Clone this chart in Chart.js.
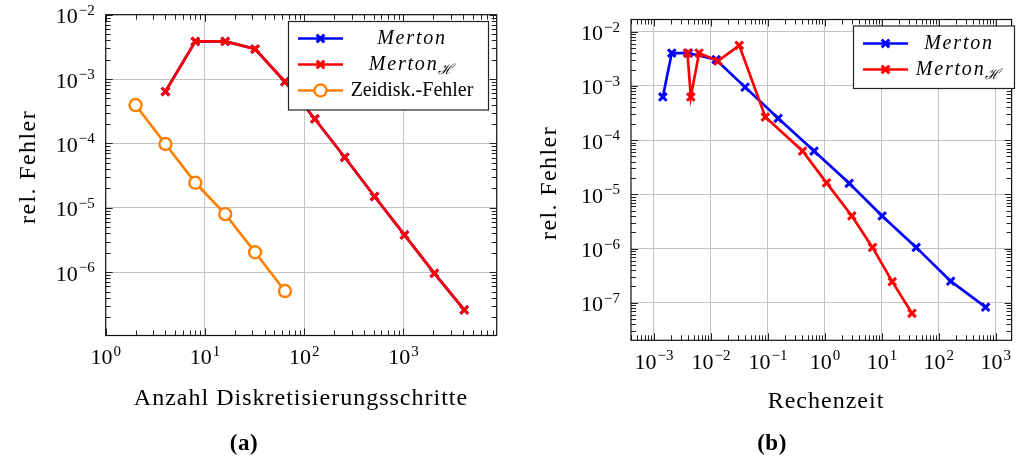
<!DOCTYPE html>
<html>
<head>
<meta charset="utf-8">
<script src="https://cdn.jsdelivr.net/npm/chart.js@4"></script>
<style>
  body { margin: 0; background: #fff; width: 1020px; height: 457px; position: relative; overflow: hidden;
         font-family: "Liberation Serif", serif; color: #000; }
  canvas { position: absolute; left: 0; top: 0; }
  .lbl { position: absolute; white-space: nowrap; font-size: 24px; line-height: 1; letter-spacing: 1px;
         transform: translate(-50%, -50%); }
  .rot { transform: translate(-50%, -50%) rotate(-90deg); letter-spacing: 1.4px; }
  .cap { font-weight: bold; font-size: 23px; letter-spacing: 0.5px; }
</style>
</head>
<body>
<canvas id="chartA" width="1020" height="457"></canvas>
<canvas id="chartB" width="1020" height="457"></canvas>

<div class="lbl rot" style="left:27px; top:167px">rel. Fehler</div>
<div class="lbl" style="left:301px; top:397px">Anzahl Diskretisierungsschritte</div>
<div class="lbl cap" style="left:244px; top:442px">(a)</div>

<div class="lbl rot" style="left:548px; top:183px">rel. Fehler</div>
<div class="lbl" style="left:826px; top:400px">Rechenzeit</div>
<div class="lbl cap" style="left:772px; top:442px">(b)</div>

<script>
// --- (a) error vs number of discretisation steps ---
const stepsA = [4, 8, 16, 32, 64, 128, 256, 512, 1024, 2048, 4096];
const mertonA = [6.4e-4, 3.85e-3, 3.85e-3, 2.93e-3, 9.1e-4, 2.4e-4, 6.1e-5, 1.5e-5, 3.8e-6, 9.6e-7, 2.6e-7];
const mertonHA = [6.4e-4, 3.85e-3, 3.85e-3, 2.93e-3, 9.1e-4, 2.4e-4, 6.1e-5, 1.5e-5, 3.8e-6, 9.6e-7, 2.6e-7];
const stepsZeit = [2, 4, 8, 16, 32, 64];
const zeitFehler = [3.95e-4, 9.8e-5, 2.45e-5, 8.0e-6, 2.04e-6, 5.1e-7];

// --- (b) error vs computing time ---
const zeitMerton = [1.43e-3, 2.05e-3, 4.04e-3, 0.0123, 0.0397, 0.151, 0.645, 2.67, 10.1, 40, 161, 661];
const fehlerMerton = [6.25e-4, 4.04e-3, 4.04e-3, 3.05e-3, 9.5e-4, 2.53e-4, 6.3e-5, 1.6e-5, 4.0e-6, 1.05e-6, 2.5e-7, 8.3e-8];
const zeitMertonH = [3.87e-3, 4.43e-3, 6.18e-3, 0.0133, 0.0313, 0.090, 0.405, 1.07, 2.97, 6.85, 15.2, 33.7];
const fehlerMertonH = [4.04e-3, 6.25e-4, 4.04e-3, 2.88e-3, 5.6e-3, 2.67e-4, 6.3e-5, 1.63e-5, 4.0e-6, 1.05e-6, 2.45e-7, 6.4e-8];

// decade exponents that get a label
const xExpA = [0, 1, 2, 3];
const yExpA = [-6, -5, -4, -3, -2];
const xExpB = [-3, -2, -1, 0, 1, 2, 3];
const yExpB = [-7, -6, -5, -4, -3, -2];

const BLUE = '#0000ff', RED = '#ff0000', ORANGE = '#ff8000';

function pts(xs, ys) {
    return xs.map((x, i) => ({x: x, y: ys[i]}));
}

function series(label, xs, ys, color, style) {
    return {
        label: label,
        data: pts(xs, ys),
        borderColor: color,
        backgroundColor: style === 'circle' ? '#fff' : color,
        borderWidth: 2.7,
        showLine: true,
        pointStyle: style,
        pointRadius: style === 'circle' ? 6 : 5.4,
        pointBorderWidth: style === 'circle' ? 2.4 : 3,
        pointBorderColor: color,
        tension: 0
    };
}

function drawPower(ctx, exp, x, y, align) {
    const base = '10', sup = exp < 0 ? '\u2212' + (-exp) : String(exp);
    ctx.font = '22px "Liberation Serif"';
    const wb = ctx.measureText(base).width;
    ctx.font = '15px "Liberation Serif"';
    const ws = ctx.measureText(sup).width;
    const w = wb + 1 + ws;
    let x0 = align === 'right' ? x - w : x - w / 2;
    ctx.textBaseline = 'alphabetic';
    ctx.textAlign = 'left';
    ctx.font = '22px "Liberation Serif"';
    ctx.fillText(base, x0, y + 7.5);
    ctx.font = '15px "Liberation Serif"';
    ctx.fillText(sup, x0 + wb + 1, y - 1);
}

const axesFrame = {
    id: 'axesFrame',
    beforeDatasetsDraw(chart, args, opts) {
        const {ctx, chartArea: a, scales} = chart;
        ctx.save();
        ctx.strokeStyle = '#222';
        ctx.lineWidth = 1;
        // minor and major tick marks on all four sides
        const sx = scales.x, sy = scales.y;
        for (let e = Math.floor(Math.log10(sx.min)); e <= Math.ceil(Math.log10(sx.max)); e++) {
            for (let k = 1; k <= 9; k++) {
                const v = k * Math.pow(10, e);
                if (v < sx.min || v > sx.max) continue;
                const p = Math.round(sx.getPixelForValue(v)) + 0.5, len = k === 1 ? 7 : 5;
                ctx.beginPath();
                ctx.moveTo(p, a.bottom); ctx.lineTo(p, a.bottom - len);
                ctx.moveTo(p, a.top); ctx.lineTo(p, a.top + len);
                ctx.stroke();
            }
        }
        for (let e = Math.floor(Math.log10(sy.min)); e <= Math.ceil(Math.log10(sy.max)); e++) {
            for (let k = 1; k <= 9; k++) {
                const v = k * Math.pow(10, e);
                if (v < sy.min || v > sy.max) continue;
                const p = Math.round(sy.getPixelForValue(v)) + 0.5, len = k === 1 ? 7 : 5;
                ctx.beginPath();
                ctx.moveTo(a.left, p); ctx.lineTo(a.left + len, p);
                ctx.moveTo(a.right, p); ctx.lineTo(a.right - len, p);
                ctx.stroke();
            }
        }
        ctx.strokeStyle = '#111';
        ctx.lineWidth = 1.2;
        ctx.strokeRect(a.left, a.top, a.right - a.left, a.bottom - a.top);

        // tick labels
        ctx.fillStyle = '#000';
        opts.xExp.forEach(e => drawPower(ctx, e, sx.getPixelForValue(Math.pow(10, e)), a.bottom + 21, 'center'));
        opts.yExp.forEach(e => drawPower(ctx, e, a.left - 11, sy.getPixelForValue(Math.pow(10, e)) + 1, 'right'));
        ctx.restore();
    },
    afterDraw(chart, args, opts) {
        const lg = opts.legend;
        if (!lg) return;
        const ctx = chart.ctx;
        ctx.save();
        ctx.fillStyle = '#fff';
        ctx.fillRect(lg.box[0], lg.box[1], lg.box[2] - lg.box[0], lg.box[3] - lg.box[1]);
        ctx.strokeStyle = '#222';
        ctx.lineWidth = 1.2;
        ctx.strokeRect(lg.box[0], lg.box[1], lg.box[2] - lg.box[0], lg.box[3] - lg.box[1]);
        lg.rows.forEach(r => {
            const ds = chart.data.datasets[r.ds];
            const mx = (lg.line[0] + lg.line[1]) / 2;
            ctx.strokeStyle = ds.borderColor;
            ctx.lineWidth = ds.borderWidth;
            ctx.beginPath();
            ctx.moveTo(lg.line[0], r.y); ctx.lineTo(lg.line[1], r.y);
            ctx.stroke();
            ctx.fillStyle = ds.backgroundColor;
            ctx.lineWidth = ds.pointBorderWidth;
            if (ds.pointStyle === 'circle') {
                ctx.beginPath(); ctx.arc(mx, r.y, ds.pointRadius, 0, Math.PI * 2);
                ctx.fill(); ctx.stroke();
            } else {
                Chart.helpers.drawPoint(ctx, {
                    pointStyle: ds.pointStyle, radius: ds.pointRadius, borderWidth: ds.pointBorderWidth, rotation: 0
                }, mx, r.y);
            }
            // label
            ctx.fillStyle = '#000';
            ctx.textBaseline = 'middle';
            ctx.textAlign = 'left';
            if (r.italic) {
                ctx.font = 'italic 20px "Liberation Serif"';
                ctx.letterSpacing = '1.8px';
                const w1 = ctx.measureText(r.text).width;
                let w2 = 0;
                if (r.sub) {
                    ctx.font = 'italic 14px "DejaVu Serif"';
                    w2 = ctx.measureText(r.sub).width;
                }
                const x0 = lg.textX - (w1 + w2) / 2;
                ctx.font = 'italic 20px "Liberation Serif"';
                ctx.fillText(r.text, x0, r.y);
                if (r.sub) {
                    ctx.font = 'italic 14px "DejaVu Serif"';
                    ctx.letterSpacing = '0px';
                    ctx.fillText(r.sub, x0 + w1, r.y + 6);
                }
                ctx.letterSpacing = '0px';
            } else {
                ctx.font = '20px "Liberation Serif"';
                ctx.textAlign = 'center';
                ctx.fillText(r.text, lg.textX, r.y);
            }
        });
        ctx.restore();
    }
};

function makeChart(id, datasets, xr, yr, pad, xExp, yExp, legend) {
    const decades = (lo, hi) => {
        const out = [];
        for (let e = Math.ceil(Math.log10(lo) - 1e-9); Math.pow(10, e) <= hi * 1.0001; e++) out.push({value: Math.pow(10, e)});
        return out;
    };
    return new Chart(document.getElementById(id).getContext('2d'), {
        type: 'scatter',
        data: {datasets: datasets},
        options: {
            responsive: false,
            animation: false,
            events: [],
            layout: {padding: pad},
            plugins: {legend: {display: false}, tooltip: {enabled: false},
                      axesFrame: {xExp: xExp, yExp: yExp, legend: legend}},
            scales: {
                x: {
                    type: 'logarithmic', min: xr[0], max: xr[1],
                    afterBuildTicks: s => { s.ticks = decades(xr[0], xr[1]); },
                    ticks: {display: false},
                    grid: {color: '#c4c4c4', lineWidth: 1, drawTicks: false},
                    border: {display: false}
                },
                y: {
                    type: 'logarithmic', min: yr[0], max: yr[1],
                    afterBuildTicks: s => { s.ticks = decades(yr[0], yr[1]); },
                    ticks: {display: false},
                    grid: {color: '#c4c4c4', lineWidth: 1, drawTicks: false},
                    border: {display: false}
                }
            }
        },
        plugins: [axesFrame]
    });
}

const dsA = [
    series('Merton', stepsA, mertonA, BLUE, 'crossRot'),
    series('MertonH', stepsA, mertonHA, RED, 'crossRot'),
    series('Zeidisk.-Fehler', stepsZeit, zeitFehler, ORANGE, 'circle')
];
dsA[0].order = 2; dsA[1].order = 1; dsA[2].order = 0;

makeChart('chartA', dsA, [1, 8700], [1.04e-7, 1e-2],
    {left: 105.7, top: 14.7, right: 1020 - 496.7, bottom: 457 - 335.5},
    xExpA, yExpA,
    {box: [288.5, 21.5, 488.5, 110], line: [298, 343], textX: 412,
     rows: [{ds: 0, y: 38.5, text: 'Merton', italic: true},
            {ds: 1, y: 64.5, text: 'Merton', sub: '\u210B', italic: true},
            {ds: 2, y: 90.5, text: 'Zeidisk.-Fehler'}]});

const dsB = [
    series('Merton', zeitMerton, fehlerMerton, BLUE, 'crossRot'),
    series('MertonH', zeitMertonH, fehlerMertonH, RED, 'crossRot')
];
dsB[0].order = 1; dsB[1].order = 0;

makeChart('chartB', dsB, [3.95e-4, 1.89e3], [2.03e-8, 1.68e-2],
    {left: 631, top: 19.5, right: 1020 - 1017.3, bottom: 457 - 340.3},
    xExpB, yExpB,
    {box: [853.5, 26, 1014.5, 88.5], line: [863, 908], textX: 959,
     rows: [{ds: 0, y: 43.5, text: 'Merton', italic: true},
            {ds: 1, y: 69.5, text: 'Merton', sub: '\u210B', italic: true}]});
</script>
</body>
</html>
